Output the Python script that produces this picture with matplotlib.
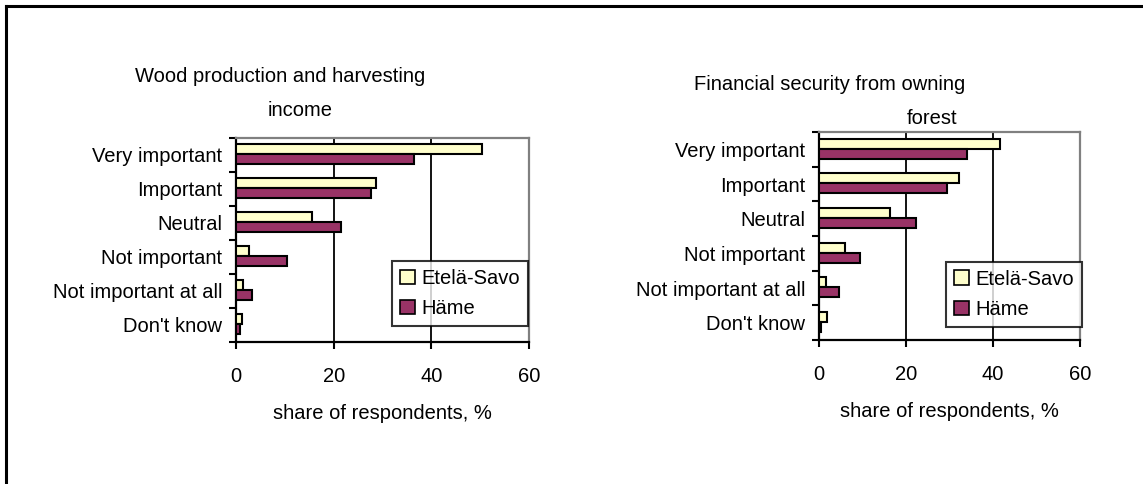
import matplotlib

matplotlib.use("Agg")
import matplotlib.pyplot as plt
from matplotlib.lines import Line2D
from matplotlib.patches import Patch

plt.rcParams["font.family"] = ["Liberation Sans", "DejaVu Sans"]

categories = [
    "Very important",
    "Important",
    "Neutral",
    "Not important",
    "Not important at all",
    "Don't know",
]
series_names = ["Etelä-Savo", "Häme"]

# share of respondents, %
wood_etela_savo = [50.4, 28.7, 15.6, 2.7, 1.5, 1.2]
wood_hame = [36.5, 27.7, 21.6, 10.4, 3.3, 0.9]
security_etela_savo = [41.6, 32.2, 16.3, 6.0, 1.7, 1.8]
security_hame = [34.0, 29.4, 22.2, 9.5, 4.7, 0.5]

title_lines_wood = ["Wood production and harvesting", "income"]
title_lines_security = ["Financial security from owning", "forest"]
x_ticks = [0, 20, 40, 60]
x_label = "share of respondents, %"

COLORS = ["#FFFFCC", "#993366"]
FS = 14.5


def draw_panel(ax, values_a, values_b, legend_anchor):
    n = len(categories)
    centers = [n - 0.5 - i for i in range(n)]
    h = 0.29
    ax.barh([c + h / 2 + 0.02 for c in centers], values_a, height=h, color=COLORS[0],
            edgecolor="black", linewidth=1.5, zorder=3)
    ax.barh([c - h / 2 + 0.02 for c in centers], values_b, height=h, color=COLORS[1],
            edgecolor="black", linewidth=1.5, zorder=3)

    for x in x_ticks[1:-1]:
        ax.axvline(x, color="black", linewidth=1.3, zorder=1)

    ax.set_xlim(0, 60)
    ax.set_ylim(0, n)
    ax.set_xticks(x_ticks)
    ax.set_yticks(range(n + 1))
    ax.set_yticklabels([])
    ax.set_yticks(centers, minor=True)
    ax.set_yticklabels(categories, minor=True, fontsize=FS)
    ax.tick_params(axis="y", which="major", direction="out", length=5, width=1.5)
    ax.tick_params(axis="y", which="minor", length=0, pad=10)
    ax.tick_params(axis="x", direction="out", length=5, width=1.5, labelsize=FS, pad=13)
    ax.set_xlabel(x_label, fontsize=FS, labelpad=13)

    for side in ("left", "bottom"):
        ax.spines[side].set_color("black")
        ax.spines[side].set_linewidth(1.6)
    for side in ("top", "right"):
        ax.spines[side].set_color("#808080")
        ax.spines[side].set_linewidth(1.6)

    handles = [Patch(facecolor=c, edgecolor="black", linewidth=1.2, label=s)
               for c, s in zip(COLORS, series_names)]
    leg = ax.legend(handles=handles, loc="lower right", bbox_to_anchor=legend_anchor,
                    fontsize=FS, frameon=True, fancybox=False, edgecolor="black",
                    handlelength=0.75, handleheight=0.75, handletextpad=0.3,
                    borderpad=0.4, labelspacing=0.55, borderaxespad=0)
    leg.get_frame().set_linewidth(1.5)
    leg.set_zorder(5)


fig = plt.figure(figsize=(11.43, 4.84), dpi=100)
W, H = 1143, 484

ax1 = fig.add_axes([236 / W, 1 - 342 / H, (529 - 236) / W, (342 - 138) / H])
ax2 = fig.add_axes([819 / W, 1 - 340 / H, (1080 - 819) / W, (340 - 132) / H])

draw_panel(ax1, wood_etela_savo, wood_hame, (0.997, 0.078))
draw_panel(ax2, security_etela_savo, security_hame, (1.008, 0.0625))

# chart titles, one text per wrapped line
for (x, y), line in zip([(280, 82), (300, 116)], title_lines_wood):
    fig.text(x / W, 1 - y / H, line, ha="center", va="baseline", fontsize=FS)
for (x, y), line in zip([(830, 90), (932, 124)], title_lines_security):
    fig.text(x / W, 1 - y / H, line, ha="center", va="baseline", fontsize=FS)

# outer frame: only the top and left edges fall inside the canvas
fig.add_artist(Line2D([6 / W, 6 / W], [0, 1 - 6 / H], color="black", linewidth=2.2))
fig.add_artist(Line2D([6 / W, 1], [1 - 6 / H, 1 - 6 / H], color="black", linewidth=2.2))

fig.savefig("out.png", dpi=100)
plt.close(fig)
